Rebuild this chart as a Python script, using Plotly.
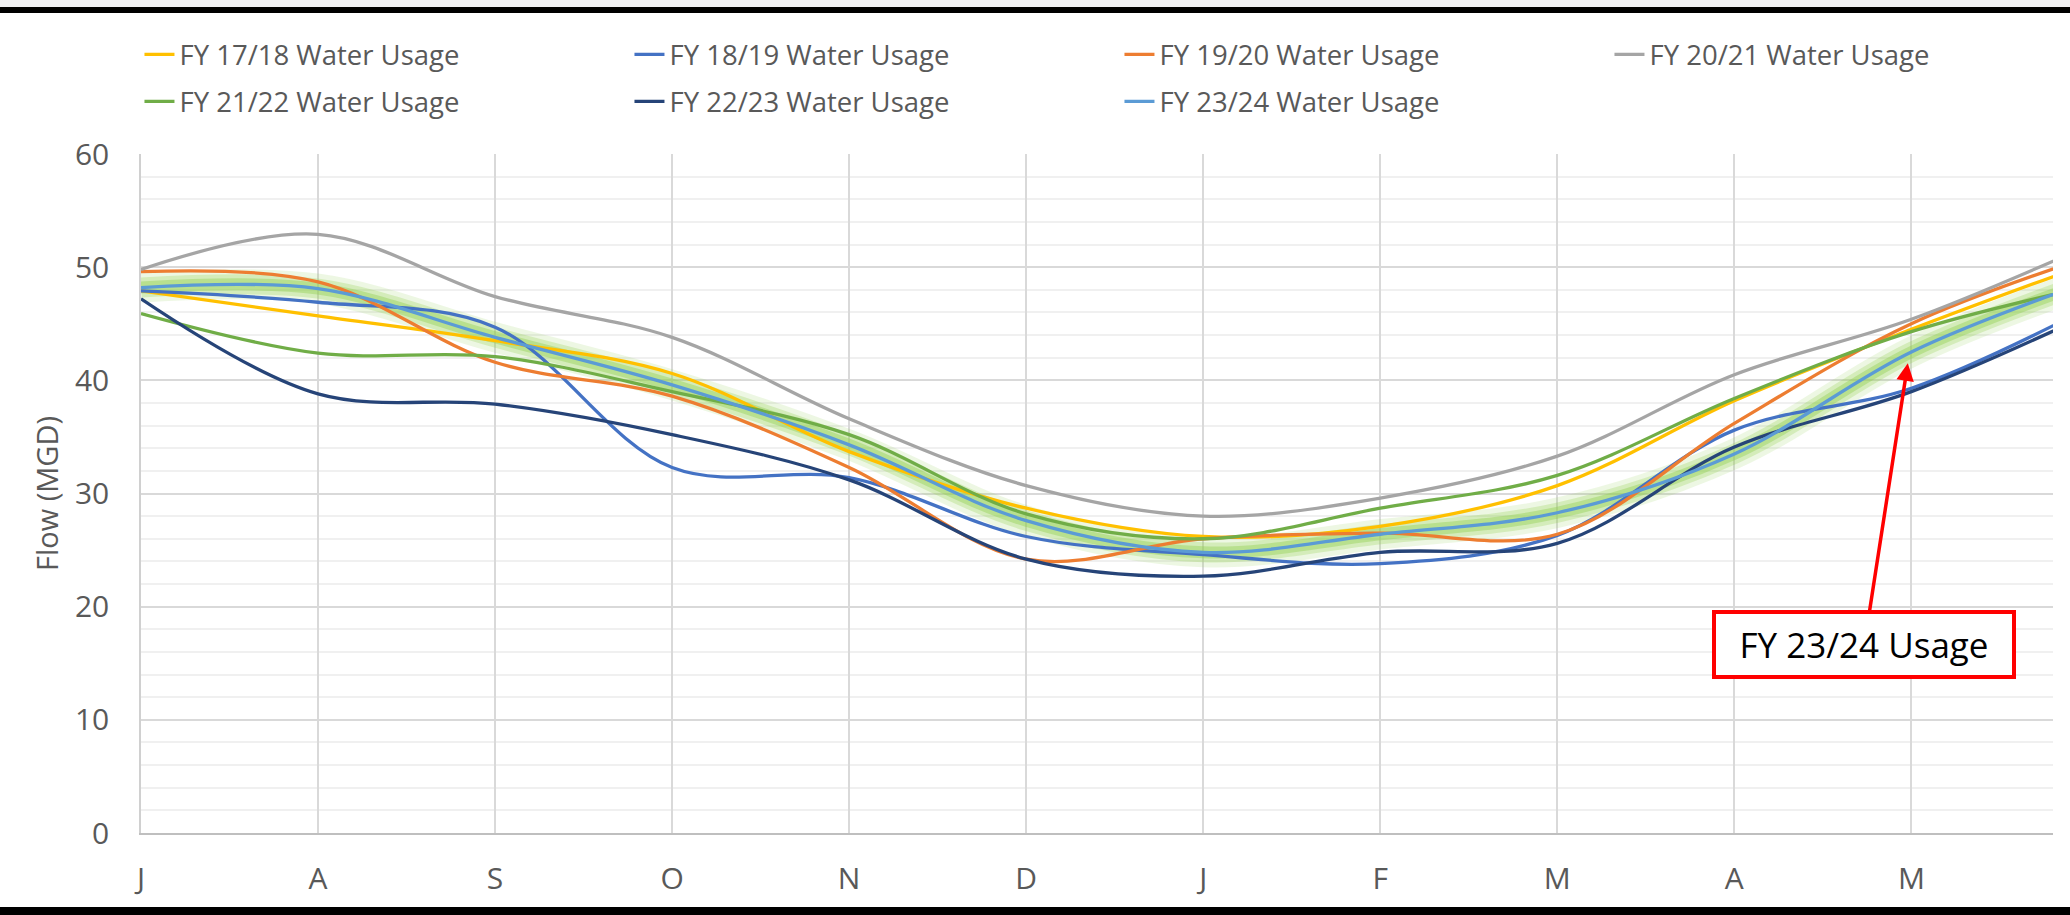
import plotly.graph_objects as go

# month positions (July .. June), last point sits just past the visible edge
months = ["J", "A", "S", "O", "N", "D", "J", "F", "M", "A", "M", "J"]
month_pos = list(range(12))

fy1718 = [47.9, 45.7, 43.5, 40.6, 33.7, 28.7, 26.2, 27.1, 30.7, 38.2, 44.5, 50.3]
fy1819 = [47.9, 46.9, 44.7, 32.3, 31.4, 26.2, 24.6, 23.8, 26.3, 35.6, 39.3, 46.4]
fy1920 = [49.6, 48.7, 41.6, 38.6, 32.3, 24.2, 26.0, 26.5, 26.4, 36.2, 45.0, 50.9]
fy2021 = [49.8, 52.9, 47.4, 43.8, 36.6, 30.7, 28.0, 29.6, 33.3, 40.5, 45.4, 51.9]
fy2122 = [45.9, 42.4, 42.1, 39.0, 35.2, 28.2, 26.0, 28.7, 31.6, 38.4, 44.3, 48.3]
fy2223 = [47.2, 38.8, 37.9, 35.2, 31.2, 24.2, 22.7, 24.8, 25.6, 34.1, 39.0, 45.8]
fy2324 = [48.2, 48.1, 43.8, 39.6, 34.3, 27.6, 24.8, 26.4, 28.3, 33.5, 42.5, 48.7]

series = [
    ("FY 17/18 Water Usage", fy1718, "#FFC000"),
    ("FY 18/19 Water Usage", fy1819, "#4472C4"),
    ("FY 19/20 Water Usage", fy1920, "#ED7D31"),
    ("FY 20/21 Water Usage", fy2021, "#A5A5A5"),
    ("FY 21/22 Water Usage", fy2122, "#70AD47"),
    ("FY 22/23 Water Usage", fy2223, "#264478"),
    ("FY 23/24 Water Usage", fy2324, "#5B9BD5"),
]

FONT = "Open Sans, sans-serif"
W, H = 2070, 915
ML, MR, MT, MB = 141, 17, 154, 82
PH = H - MT - MB

fig = go.Figure()

# soft green glow under the current year
for w, a in [(30, 0.16), (20, 0.28), (12, 0.42)]:
    fig.add_trace(go.Scatter(x=month_pos, y=fy2324, mode="lines", showlegend=False,
                             hoverinfo="skip",
                             line=dict(color=f"rgba(146,208,80,{a})", width=w,
                                       shape="spline", smoothing=1)))

for i, (name, vals, col) in enumerate(series):
    fig.add_trace(go.Scatter(x=month_pos, y=vals, mode="lines", name=name,
                             legend="legend" if i < 4 else "legend2",
                             line=dict(color=col, width=3.3, shape="spline", smoothing=1)))


def py(p):
    # pixel row from top -> paper y
    return (H - MB - p) / PH


shapes = [
    dict(type="rect", xref="paper", yref="paper", x0=-0.1, x1=1.1, y0=py(7), y1=py(0),
         fillcolor="#F1F1F3", line_width=0, layer="above"),
    dict(type="rect", xref="paper", yref="paper", x0=-0.1, x1=1.1, y0=py(13), y1=py(7),
         fillcolor="black", line_width=0, layer="above"),
    dict(type="rect", xref="paper", yref="paper", x0=-0.1, x1=1.1, y0=py(915), y1=py(907),
         fillcolor="black", line_width=0, layer="above"),
]

leg = dict(orientation="h", x=-0.0008, xanchor="left", yanchor="top",
           entrywidth=445, entrywidthmode="pixels",
           font=dict(size=27.5, color="#595959", family=FONT), bgcolor="rgba(0,0,0,0)")

fig.update_layout(
    width=W, height=H,
    margin=dict(l=ML, r=MR, t=MT, b=MB, autoexpand=False),
    paper_bgcolor="white", plot_bgcolor="white",
    font=dict(family=FONT, color="#595959", size=26),
    shapes=shapes,
    legend=dict(leg, y=py(30)),
    legend2=dict(leg, y=py(77)),
    xaxis=dict(range=[0, 10.8], tickvals=month_pos[:11], ticktext=months[:11],
               showgrid=True, gridcolor="#D9D9D9", gridwidth=1.5,
               showline=True, linecolor="#BFBFBF", linewidth=2,
               ticks="", ticklabelstandoff=18, automargin=False,
               tickfont=dict(size=30, color="#595959"), zeroline=False),
    yaxis=dict(range=[0, 60], dtick=10, showgrid=True, gridcolor="#D9D9D9", gridwidth=2,
               showline=True, linecolor="#D0D0D0", linewidth=1.5,
               ticks="", ticklabelstandoff=24, zeroline=False, automargin=False,
               tickfont=dict(size=30, color="#595959"),
               minor=dict(dtick=2, showgrid=True, gridcolor="#F0F0F0", gridwidth=2),
               title=dict(text="Flow (MGD)", font=dict(size=29, color="#595959"), standoff=8)),
    showlegend=True,
)

fig.add_annotation(
    x=9.98, y=41.5, xref="x", yref="y",
    ax=9.735, ay=16.7, axref="x", ayref="y",
    text="FY 23/24 Usage", showarrow=True,
    arrowhead=2, arrowsize=1, arrowwidth=3.5, arrowcolor="#FF0000",
    font=dict(size=35, color="black", family=FONT),
    bgcolor="white", bordercolor="#FF0000", borderwidth=4,
    width=292, height=57, borderpad=2,
)

# drop the default page margin so the figure sits at the window's corner
fig.write_html("out.html", config={"displayModeBar": False},
               post_script="document.body.style.margin='0';")
